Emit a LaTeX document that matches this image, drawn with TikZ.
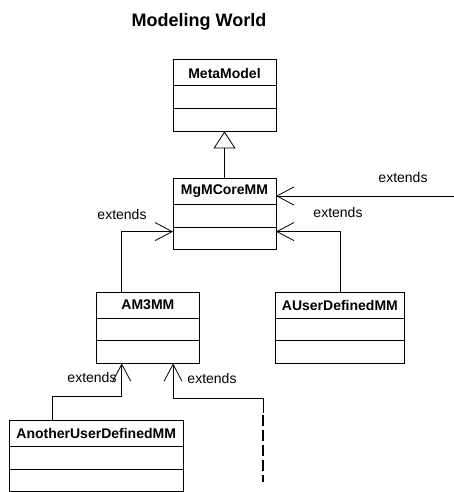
\documentclass[tikz,border=0pt]{standalone}
\usepackage{fontspec}
\setmainfont{Liberation Sans}
\usetikzlibrary{arrows.meta,positioning}

\begin{document}
\begin{tikzpicture}[x=1pt,y=-1pt,
  classname/.style={draw, line width=1pt, outer sep=0pt, inner sep=0pt, minimum height=26pt, font=\fontsize{14}{16}\selectfont\bfseries},
  classpart/.style={draw, line width=1pt, outer sep=0pt, inner sep=0pt, minimum height=22.7pt},
  extends/.style={line width=0.8pt, -{Straight Barb[length=17pt,width=18pt]}},
  lbl/.style={font=\fontsize{14}{16}\selectfont}]
\useasboundingbox (0,0) rectangle (454,492);
\node[font=\fontsize{18}{21}\selectfont\bfseries, anchor=base] (title) at (199,26.7) {Modeling World};
% classes
\node[classname, minimum width=103pt] (meta) at (224.5,73) {MetaModel};
\node[classpart, minimum width=103pt, below=0pt of meta] (meta-a) {};
\node[classpart, minimum width=103pt, below=0pt of meta-a] (meta-b) {};
\node[classname, minimum width=103pt] (mgm) at (224.5,191.3) {MgMCoreMM};
\node[classpart, minimum width=103pt, below=0pt of mgm] (mgm-a) {};
\node[classpart, minimum width=103pt, below=0pt of mgm-a] (mgm-b) {};
\node[classname, minimum width=102.3pt] (am3) at (147.9,305) {AM3MM};
\node[classpart, minimum width=102.3pt, below=0pt of am3] (am3-a) {};
\node[classpart, minimum width=102.3pt, below=0pt of am3-a] (am3-b) {};
\node[classname, minimum width=128.3pt] (auser) at (339.9,305) {AUserDefinedMM};
\node[classpart, minimum width=128.3pt, below=0pt of auser] (auser-a) {};
\node[classpart, minimum width=128.3pt, below=0pt of auser-a] (auser-b) {};
\node[classname, minimum width=174.3pt] (another) at (96.2,433.3) {AnotherUserDefinedMM};
\node[classpart, minimum width=174.3pt, below=0pt of another] (another-a) {};
\node[classpart, minimum width=174.3pt, below=0pt of another-a] (another-b) {};
% inheritance
\draw[line width=0.8pt, -{Triangle[open,length=17pt,width=22pt]}] (mgm.north) -- (meta-b.south);
\coordinate (ext) at (454,196);
\draw[extends] (ext) -- (ext -| mgm.east);
\node[lbl] (ext-lbl) at (403,177) {extends};
\draw[extends] (auser.north) |- ([yshift=-4.6pt]mgm-b.north east);
\node[lbl] (auser-lbl) at (338,212) {extends};
\draw[extends] ([xshift=25pt]am3.north west) |- ([yshift=-4.6pt]mgm-b.north west);
\node[lbl] (am3-lbl) at (122,214) {extends};
\draw[extends] ([xshift=43pt]another.north west) -- ++(0,-24) -| ([xshift=25pt]am3-b.south west);
\node[lbl] (another-lbl) at (92,377) {extends};
\coordinate (more) at (263,413);
\coordinate (more-end) at (263,482);
\draw[extends] (more) -- ++(0,-15) -| ([xshift=-26pt]am3-b.south east);
\draw[line width=2pt, dash pattern=on 10.5pt off 4.5pt] ([yshift=-2pt]more) -- (more-end);
\node[lbl] (more-lbl) at (212,378) {extends};
\end{tikzpicture}
\end{document}
